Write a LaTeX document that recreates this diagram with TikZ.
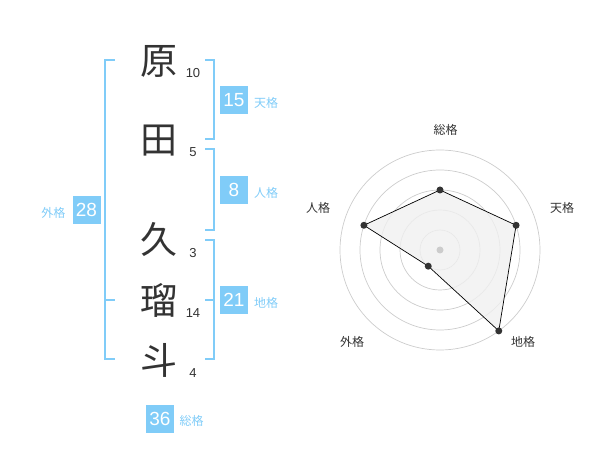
\documentclass[tikz,border=0pt]{standalone}
\usepackage{fontspec}
\setmainfont{Noto Sans CJK JP}
\newfontfamily\numfont{Liberation Sans}
\usetikzlibrary{calc}
\definecolor{kblue}{RGB}{128,204,248}
\definecolor{kdark}{RGB}{51,51,51}
\definecolor{kgrid}{RGB}{204,204,204}
\definecolor{kfill}{RGB}{240,240,240}
\begin{document}
\begin{tikzpicture}[x=1pt,y=-1pt,
  kanji/.style={font=\fontsize{37}{37}\selectfont,text=kdark,inner sep=0pt},
  strokes/.style={font=\numfont\fontsize{13}{13}\selectfont,text=kdark,inner sep=0pt},
  valbox/.style={fill=kblue,text=white,minimum width=28pt,minimum height=28pt,inner sep=0pt,font=\numfont\fontsize{19}{19}\selectfont},
  kaku/.style={text=kblue,font=\fontsize{12}{12}\selectfont,inner sep=0pt},
  bracket/.style={draw=kblue,line width=2pt},
  axlabel/.style={text=kdark,font=\fontsize{12}{12}\selectfont,inner sep=0pt},
  grid/.style={draw=kgrid,line width=0.7pt},
  pt/.style={circle,fill=kdark,minimum size=7pt,inner sep=0pt}]
\useasboundingbox (0,0) rectangle (600,470);
% name characters
\node[kanji] (c1) at (159,61) {原};
\node[kanji] (c2) at (159,141) {田};
\node[kanji] (c3) at (159,239) {久};
\node[kanji] (c4) at (159,300) {瑠};
\node[kanji] (c5) at (159,360) {斗};
\node[strokes] (s1) at (193,73) {10};
\node[strokes] (s2) at (193,152) {5};
\node[strokes] (s3) at (193,253) {3};
\node[strokes] (s4) at (193,313) {14};
\node[strokes] (s5) at (193,373) {4};
% brackets
\draw[bracket] (205,60) -- (214,60) -- (214,139) -- (205,139);
\draw[bracket] (205,149) -- (214,149) -- (214,230) -- (205,230);
\draw[bracket] (205,240) -- (214,240) -- (214,359) -- (205,359);
\draw[bracket] (205,300) -- (214,300);
\draw[bracket] (115,60) -- (105,60) -- (105,359) -- (115,359);
\draw[bracket] (105,300) -- (115,300);
% values
\node[valbox] (v1) at (234,100.5) {15};
\node[kaku] (k1) at (266,103) {天格};
\node[valbox] (v2) at (234,190) {8};
\node[kaku] (k2) at (266,193) {人格};
\node[valbox] (v3) at (234,300) {21};
\node[kaku] (k3) at (266,303) {地格};
\node[valbox] (v4) at (86.5,210) {28};
\node[kaku] (k4) at (53.5,213) {外格};
\node[valbox] (v5) at (160,419) {36};
\node[kaku] (k5) at (191.5,421) {総格};
% radar
\coordinate (O) at (440,250);
\foreach \r in {20,40,60,80,100} \draw[grid] (O) circle[radius=\r];
\coordinate (p1) at ($(O)+(-90:60)$);
\coordinate (p2) at ($(O)+(-18:80)$);
\coordinate (p3) at ($(O)+(54:100)$);
\coordinate (p4) at ($(O)+(126:20)$);
\coordinate (p5) at ($(O)+(198:80)$);
\fill[kfill,opacity=0.8] (p1) -- (p2) -- (p3) -- (p4) -- (p5) -- cycle;
\draw[black,line width=0.7pt] (p1) -- (p2) -- (p3) -- (p4) -- (p5) -- cycle;
\foreach \i in {1,...,5} \node[pt] (d\i) at (p\i) {};
\node[circle,fill=kgrid,minimum size=7pt,inner sep=0pt] (oc) at (O) {};
\node[axlabel] (a1) at (445.7,130) {総格};
\node[axlabel] (a2) at (562,208) {天格};
\node[axlabel] (a3) at (523,342) {地格};
\node[axlabel] (a4) at (352,342) {外格};
\node[axlabel] (a5) at (318,208) {人格};
\end{tikzpicture}
\end{document}
